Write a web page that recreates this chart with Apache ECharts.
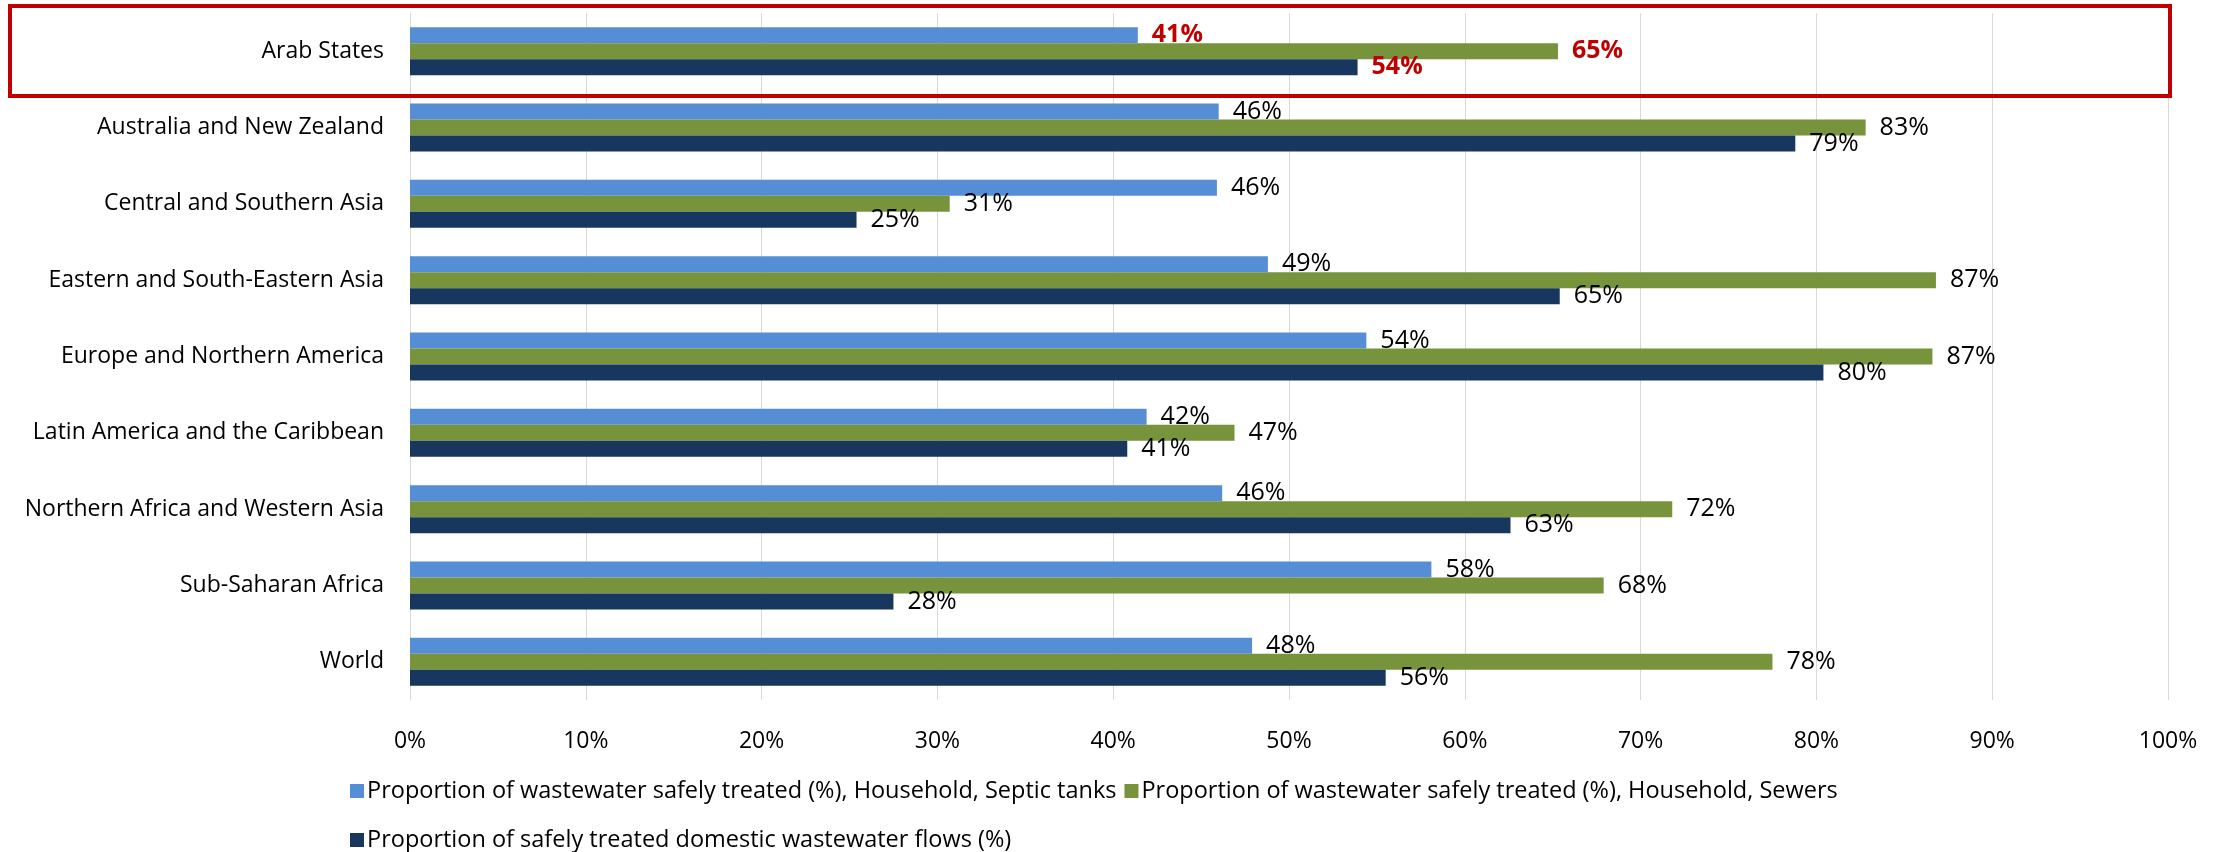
<!DOCTYPE html>
<html>
<head>
<meta charset="utf-8">
<title>Wastewater treatment by region</title>
<script src="https://cdn.jsdelivr.net/npm/echarts@6/dist/echarts.min.js"></script>
<style>
  html, body { margin: 0; padding: 0; background: #fff; }
  #chart { width: 2224px; height: 852px; }
</style>
</head>
<body>
<div id="chart"></div>
<script>
  var regions = ['Arab States', 'Australia and New Zealand', 'Central and Southern Asia',
    'Eastern and South-Eastern Asia', 'Europe and Northern America', 'Latin America and the Caribbean',
    'Northern Africa and Western Asia', 'Sub-Saharan Africa', 'World'];
  var septicTanks = [41.4, 46.0, 45.9, 48.8, 54.4, 41.9, 46.2, 58.1, 47.9];
  var sewers = [65.3, 82.8, 30.7, 86.8, 86.6, 46.9, 71.8, 67.9, 77.5];
  var domesticFlows = [53.9, 78.8, 25.4, 65.4, 80.4, 40.8, 62.6, 27.5, 55.5];
  var xTicks = [0, 10, 20, 30, 40, 50, 60, 70, 80, 90, 100];

  var seriesNames = ['Proportion of wastewater safely treated (%), Household, Septic tanks',
    'Proportion of wastewater safely treated (%), Household, Sewers',
    'Proportion of safely treated domestic wastewater flows (%)'];
  var colors = ['#558ED5', '#77933C', '#17375E'];
  var font = 'Open Sans';
  var fontSize = 23;
  var highlight = 'Arab States';

  function toData(values) {
    return values.map(function (v, i) {
      if (regions[i] !== highlight) return v;
      // the highlighted region gets bold red labels
      return {value: v, label: {color: '#C00000', fontWeight: 'bold'}};
    });
  }

  function makeSeries(name, values, color) {
    return {
      name: name,
      type: 'bar',
      barWidth: 16,
      barGap: '0%',
      data: toData(values),
      itemStyle: {color: color},
      label: {
        show: true,
        position: 'right',
        distance: 14,
        fontFamily: font,
        fontSize: 25,
        color: '#000',
        formatter: function (p) { return Math.round(p.value) + '%'; }
      }
    };
  }

  var legendText = {fontFamily: font, fontSize: 23.5, color: '#000', padding: [0, 0, 0, -2]};

  var myChart = echarts.init(document.getElementById('chart'));
  var option = {
    animation: false,
    color: colors,
    grid: {left: 410, right: 56, top: 13, bottom: 152},
    legend: [
      {
        data: [seriesNames[0], seriesNames[1]],
        left: 345, top: 774,
        icon: 'rect', itemWidth: 14, itemHeight: 14, itemGap: 8,
        textStyle: legendText
      },
      {
        data: [seriesNames[2]],
        left: 345, top: 823,
        icon: 'rect', itemWidth: 14, itemHeight: 14, itemGap: 8,
        textStyle: legendText
      }
    ],
    xAxis: {
      type: 'value',
      min: xTicks[0],
      max: xTicks[xTicks.length - 1],
      interval: xTicks[1] - xTicks[0],
      axisLine: {show: false},
      axisTick: {show: false},
      splitLine: {lineStyle: {color: '#D9D9D9', width: 1}},
      axisLabel: {formatter: '{value}%', fontFamily: font, fontSize: fontSize, color: '#000', margin: 30}
    },
    yAxis: {
      type: 'category',
      inverse: true,
      data: regions,
      axisLine: {lineStyle: {color: '#D9D9D9', width: 1}},
      axisTick: {show: false},
      axisLabel: {fontFamily: font, fontSize: fontSize, color: '#000', margin: 26}
    },
    graphic: [{
      type: 'rect',
      shape: {x: 10, y: 6, width: 2160, height: 90},
      style: {fill: 'none', stroke: '#C00000', lineWidth: 4},
      z: 100
    }],
    series: [
      makeSeries(seriesNames[0], septicTanks, colors[0]),
      makeSeries(seriesNames[1], sewers, colors[1]),
      makeSeries(seriesNames[2], domesticFlows, colors[2])
    ]
  };
  myChart.setOption(option);
</script>
</body>
</html>
